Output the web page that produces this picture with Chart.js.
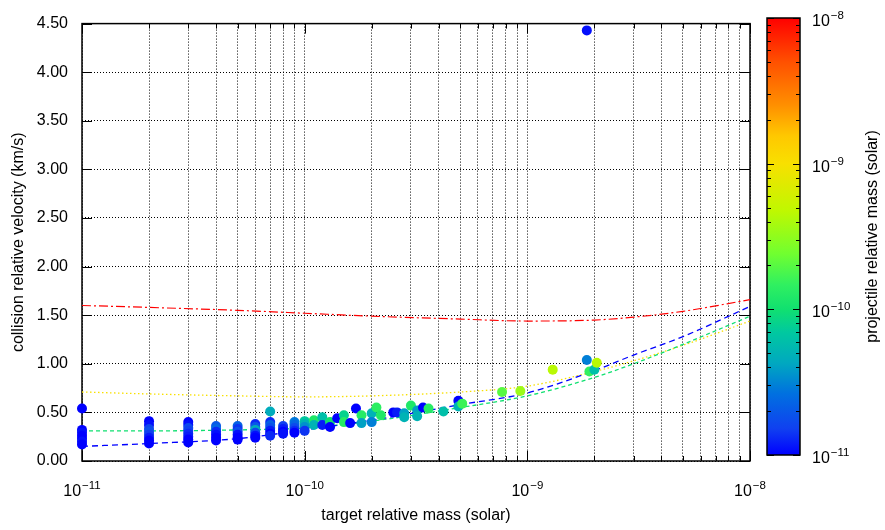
<!DOCTYPE html>
<html>
<head>
<meta charset="utf-8">
<script src="https://cdn.jsdelivr.net/npm/chart.js@4.4.0/dist/chart.umd.min.js"></script>
<style>
  body { margin: 0; background: #fff; }
  #wrap { position: relative; width: 885px; height: 530px; }
  canvas { position: absolute; left: 0; top: 0; }
</style>
</head>
<body>
<div id="wrap">
  <canvas id="main" width="885" height="530"></canvas>
  <canvas id="cbar" width="885" height="530"></canvas>
</div>
<script>
// collisions: target mass, velocity (km/s), projectile mass (colour)
const targetMass = [
  1e-11, 1e-11, 1e-11, 1e-11, 1e-11, 1e-11, 1e-11,
  2e-11, 2e-11, 2e-11, 2e-11, 2e-11, 2e-11, 2e-11, 2e-11,
  3e-11, 3e-11, 3e-11, 3e-11, 3e-11, 3e-11, 3e-11, 3e-11,
  4e-11, 4e-11, 4e-11, 4e-11, 4e-11, 4e-11,
  5e-11, 5e-11, 5e-11, 5e-11, 5e-11, 5e-11,
  6e-11, 6e-11, 6e-11, 6e-11, 6e-11, 6e-11,
  7e-11, 7e-11, 7e-11, 7e-11, 7e-11, 7e-11, 7e-11,
  8e-11, 8e-11, 8e-11, 8e-11,
  9e-11, 9e-11, 9e-11, 9e-11, 9e-11,
  1e-10, 1e-10, 1e-10, 1e-10,
  1.1e-10, 1.1e-10, 1.2e-10, 1.2e-10, 1.3e-10, 1.3e-10, 1.4e-10, 1.5e-10, 1.5e-10, 1.6e-10,
  1.7e-10, 1.8e-10, 1.8e-10, 2.0e-10, 2.0e-10, 2.1e-10, 2.2e-10, 2.5e-10, 2.6e-10, 2.8e-10,
  2.8e-10, 3.0e-10, 3.2e-10, 3.2e-10, 3.4e-10, 3.6e-10, 4.2e-10, 4.9e-10, 4.9e-10, 5.1e-10,
  7.7e-10, 9.3e-10, 1.3e-9, 1.85e-9, 1.85e-9, 1.9e-9, 2.0e-9, 2.05e-9
];
const velocity = [
  0.54, 0.32, 0.29, 0.26, 0.23, 0.20, 0.17,
  0.41, 0.37, 0.33, 0.30, 0.27, 0.24, 0.21, 0.18,
  0.40, 0.37, 0.34, 0.31, 0.28, 0.25, 0.22, 0.19,
  0.36, 0.33, 0.30, 0.27, 0.24, 0.21,
  0.36, 0.33, 0.30, 0.27, 0.24, 0.22,
  0.38, 0.35, 0.32, 0.29, 0.26, 0.24,
  0.51, 0.40, 0.37, 0.34, 0.31, 0.28, 0.26,
  0.36, 0.33, 0.30, 0.28,
  0.40, 0.37, 0.34, 0.31, 0.29,
  0.41, 0.38, 0.35, 0.31,
  0.42, 0.37, 0.45, 0.37, 0.40, 0.35, 0.44, 0.47, 0.40, 0.39,
  0.54, 0.47, 0.39, 0.49, 0.40, 0.55, 0.47, 0.50, 0.50, 0.49,
  0.45, 0.57, 0.52, 0.46, 0.55, 0.54, 0.51, 0.62, 0.56, 0.59,
  0.71, 0.72, 0.94, 4.43, 1.04, 0.92, 0.94, 1.01
];
const projectileMass = [
  1.0e-11, 1.0e-11, 1.1e-11, 1.0e-11, 1.0e-11, 1.1e-11, 1.0e-11,
  1.0e-11, 1.1e-11, 1.6e-11, 1.8e-11, 1.5e-11, 1.2e-11, 1.0e-11, 1.0e-11,
  1.0e-11, 1.1e-11, 1.7e-11, 1.5e-11, 1.3e-11, 1.2e-11, 1.0e-11, 1.0e-11,
  2.0e-11, 2.4e-11, 1.3e-11, 1.1e-11, 1.0e-11, 1.0e-11,
  2.2e-11, 1.4e-11, 1.8e-11, 1.1e-11, 1.0e-11, 1.0e-11,
  1.3e-11, 2.0e-11, 4.5e-11, 1.6e-11, 1.1e-11, 1.0e-11,
  4.5e-11, 1.3e-11, 2.2e-11, 1.8e-11, 1.2e-11, 1.0e-11, 1.3e-11,
  1.5e-11, 1.2e-11, 1.0e-11, 1.1e-11,
  2.8e-11, 2.3e-11, 1.7e-11, 1.3e-11, 1.0e-11,
  7.0e-11, 5.0e-11, 3.5e-11, 1.4e-11,
  1.2e-10, 5.0e-11, 6.0e-11, 1.2e-11, 1.0e-10, 1.0e-11, 1.0e-11, 8.0e-11, 1.3e-10, 1.0e-11,
  1.0e-11, 1.3e-10, 4.0e-11, 5.0e-11, 3.0e-11, 1.4e-10, 1.2e-10, 1.0e-11, 1.2e-11, 4.0e-11,
  5.0e-11, 1.2e-10, 4.0e-11, 5.0e-11, 1.0e-11, 1.3e-10, 6.0e-11, 1.0e-11, 5.0e-11, 1.6e-10,
  2.0e-10, 3.5e-10, 4.5e-10, 1.1e-11, 3.0e-11, 1.5e-10, 6.0e-11, 4.5e-10
];

// model curves, one per projectile mass
const curveMass = [1e-11, 2e-11, 5e-11, 1e-10, 2e-10, 5e-10, 1e-9, 2e-9, 3e-9, 5e-9, 1e-8];
const curveProjectile = [1e-11, 1e-10, 1e-9, 1e-8];
const vCurve11 = [0.15, 0.18, 0.23, 0.32, 0.42, 0.58, 0.70, 0.93, 1.09, 1.28, 1.59];
const vCurve10 = [0.31, 0.31, 0.32, 0.34, 0.41, 0.55, 0.67, 0.86, 1.00, 1.20, 1.49];
const vCurve9  = [0.71, 0.69, 0.67, 0.66, 0.67, 0.71, 0.77, 0.92, 1.03, 1.19, 1.44];
const vCurve8  = [1.60, 1.58, 1.55, 1.52, 1.49, 1.46, 1.44, 1.45, 1.48, 1.54, 1.66];

// ticks
const xMajorTicks = [1e-11, 1e-10, 1e-9, 1e-8];
const xMajorLabels = ['\u221211', '\u221210', '\u22129', '\u22128'];
const minorMantissa = [2, 3, 4, 5, 6, 7, 8, 9];
const yTicks = [0, 0.5, 1, 1.5, 2, 2.5, 3, 3.5, 4, 4.5];

const FONT = "'Liberation Sans', Arial, Helvetica, sans-serif";
Chart.defaults.font.family = FONT;
Chart.defaults.font.size = 16;
Chart.defaults.color = '#000';

const cmapStops = [
  [0.00, [0, 0, 255]],
  [0.06, [16, 64, 240]],
  [0.14, [0, 112, 224]],
  [0.21, [0, 168, 192]],
  [0.28, [0, 200, 160]],
  [0.333, [16, 224, 112]],
  [0.39, [48, 240, 96]],
  [0.46, [112, 255, 48]],
  [0.56, [192, 248, 0]],
  [0.667, [248, 224, 0]],
  [0.73, [255, 200, 0]],
  [0.80, [255, 144, 0]],
  [0.90, [255, 80, 0]],
  [1.00, [255, 0, 0]]
];

function colorFor(m) {
  const t = Math.min(Math.max((Math.log10(m) + 11) / 3, 0), 1);
  for (let i = 1; i < cmapStops.length; i++) {
    const [t1, c1] = cmapStops[i];
    const [t0, c0] = cmapStops[i - 1];
    if (t <= t1) {
      const f = (t - t0) / (t1 - t0);
      const c = c0.map((v, k) => Math.round(v + (c1[k] - v) * f));
      return `rgb(${c[0]},${c[1]},${c[2]})`;
    }
  }
  return 'rgb(255,0,0)';
}

function logTicks() {
  const out = [];
  xMajorTicks.forEach((m, i) => {
    out.push({ value: m, major: true });
    if (i < xMajorTicks.length - 1) minorMantissa.forEach(k => out.push({ value: k * m, major: false }));
  });
  return out;
}

function drawPow(ctx, exp, x, y, align) {
  ctx.font = '16px ' + FONT;
  const wb = ctx.measureText('10').width;
  ctx.font = '11.5px ' + FONT;
  const we = ctx.measureText(exp).width;
  const x0 = align === 'center' ? x - (wb + we + 1) / 2 : x;
  ctx.fillStyle = '#000';
  ctx.textAlign = 'left';
  ctx.textBaseline = 'alphabetic';
  ctx.font = '16px ' + FONT;
  ctx.fillText('10', x0, y);
  ctx.font = '11.5px ' + FONT;
  ctx.fillText(exp, x0 + wb + 1, y - 7);
}

const framePlugin = {
  id: 'frame',
  beforeDatasetsDraw(chart) {
    const { ctx, chartArea: a, scales: { x, y } } = chart;
    ctx.save();
    ctx.strokeStyle = '#000';
    ctx.lineWidth = 1;
    ctx.beginPath();
    x.ticks.forEach(t => {
      const px = Math.round(x.getPixelForValue(t.value)) + 0.5;
      const len = t.major ? 10 : 5;
      ctx.moveTo(px, a.bottom); ctx.lineTo(px, a.bottom - len);
      ctx.moveTo(px, a.top); ctx.lineTo(px, a.top + len);
    });
    y.ticks.forEach(t => {
      const py = Math.round(y.getPixelForValue(t.value)) + 0.5;
      ctx.moveTo(a.left, py); ctx.lineTo(a.left + 10, py);
      ctx.moveTo(a.right, py); ctx.lineTo(a.right - 10, py);
    });
    ctx.stroke();
    ctx.lineWidth = 1.5;
    ctx.strokeRect(a.left, a.top, a.right - a.left, a.bottom - a.top);
    ctx.restore();
  },
  afterDraw(chart) {
    const { ctx, chartArea: a, scales: { x } } = chart;
    ctx.save();
    xMajorTicks.forEach((m, i) => {
      drawPow(ctx, xMajorLabels[i], x.getPixelForValue(m), a.bottom + 35, 'center');
    });
    ctx.restore();
  }
};

const points = targetMass.map((m, i) => ({ x: m, y: velocity[i] }));
const curve = (vals, pm, dash, width) => ({
  data: curveMass.map((m, i) => ({ x: m, y: vals[i] })),
  showLine: true,
  pointRadius: 0,
  borderColor: colorFor(pm),
  borderWidth: width,
  borderDash: dash,
  cubicInterpolationMode: 'monotone',
  fill: false
});

new Chart(document.getElementById('main'), {
  type: 'scatter',
  data: {
    datasets: [
      {
        data: points,
        pointRadius: 5,
        pointBorderWidth: 0,
        pointBackgroundColor: projectileMass.map(colorFor),
        showLine: false,
        clip: false
      },
      curve(vCurve11, curveProjectile[0], [6, 4], 1.3),
      curve(vCurve10, curveProjectile[1], [4, 3], 1.3),
      curve(vCurve9, curveProjectile[2], [1.5, 2.5], 1.3),
      curve(vCurve8, curveProjectile[3], [9, 3, 2, 3], 1.2)
    ]
  },
  options: {
    responsive: false,
    animation: false,
    layout: { padding: { top: 20, right: 135, left: 0, bottom: 0 } },
    plugins: { legend: { display: false }, tooltip: { enabled: false } },
    scales: {
      x: {
        type: 'logarithmic',
        min: 1e-11,
        max: 1e-8,
        afterBuildTicks: s => { s.ticks = logTicks(); },
        afterFit: s => { s.height = 69; },
        ticks: { display: false },
        grid: { color: '#000', lineWidth: 1, drawTicks: false },
        border: { display: false, dash: [1, 2] },
        title: { display: true, text: 'target relative mass (solar)', font: { size: 16 }, padding: { bottom: 5 } }
      },
      y: {
        min: 0,
        max: 4.5,
        afterBuildTicks: s => { s.ticks = yTicks.map(v => ({ value: v })); },
        afterFit: s => { s.width = 82; },
        ticks: { padding: 14, callback: v => Number(v).toFixed(2), font: { size: 16 } },
        grid: { color: '#000', lineWidth: 1, drawTicks: false },
        border: { display: false, dash: [1, 2] },
        title: { display: true, text: 'collision relative velocity (km/s)', font: { size: 16 }, padding: { top: 9 } }
      }
    }
  },
  plugins: [framePlugin]
});

// colour bar
const cbarPlugin = {
  id: 'cbar',
  afterDraw(chart) {
    const { ctx, chartArea: a, scales: { y } } = chart;
    ctx.save();
    const g = ctx.createLinearGradient(0, a.bottom, 0, a.top);
    cmapStops.forEach(([t, c]) => g.addColorStop(t, `rgb(${c[0]},${c[1]},${c[2]})`));
    ctx.fillStyle = g;
    ctx.fillRect(a.left, a.top, a.right - a.left, a.bottom - a.top);
    ctx.strokeStyle = '#000';
    ctx.lineWidth = 1;
    ctx.beginPath();
    xMajorTicks.forEach((m, i) => {
      const vals = [{ v: m, len: 7 }];
      if (i < xMajorTicks.length - 1) minorMantissa.forEach(k => vals.push({ v: k * m, len: 4 }));
      vals.forEach(({ v, len }) => {
        const py = Math.round(y.getPixelForValue(v)) + 0.5;
        ctx.moveTo(a.left, py); ctx.lineTo(a.left + len, py);
        ctx.moveTo(a.right, py); ctx.lineTo(a.right - len, py);
      });
    });
    ctx.stroke();
    ctx.lineWidth = 1.5;
    ctx.strokeRect(a.left, a.top, a.right - a.left, a.bottom - a.top);
    xMajorTicks.forEach((m, i) => {
      drawPow(ctx, xMajorLabels[i], a.right + 12, y.getPixelForValue(m) + 8, 'left');
    });
    ctx.translate(873, (a.top + a.bottom) / 2);
    ctx.rotate(-Math.PI / 2);
    ctx.font = '16px ' + FONT;
    ctx.textAlign = 'center';
    ctx.textBaseline = 'middle';
    ctx.fillStyle = '#000';
    ctx.fillText('projectile relative mass (solar)', 0, 0);
    ctx.restore();
  }
};

new Chart(document.getElementById('cbar'), {
  type: 'scatter',
  data: { datasets: [{ data: [] }] },
  options: {
    responsive: false,
    animation: false,
    layout: { padding: { top: 18, bottom: 75, left: 767, right: 0 } },
    plugins: { legend: { display: false }, tooltip: { enabled: false } },
    scales: {
      x: { display: false, min: 0, max: 1 },
      y: {
        type: 'logarithmic',
        position: 'right',
        min: 1e-11,
        max: 1e-8,
        afterFit: s => { s.width = 85; },
        ticks: { display: false },
        grid: { display: false },
        border: { display: false }
      }
    }
  },
  plugins: [cbarPlugin]
});
</script>
</body>
</html>
